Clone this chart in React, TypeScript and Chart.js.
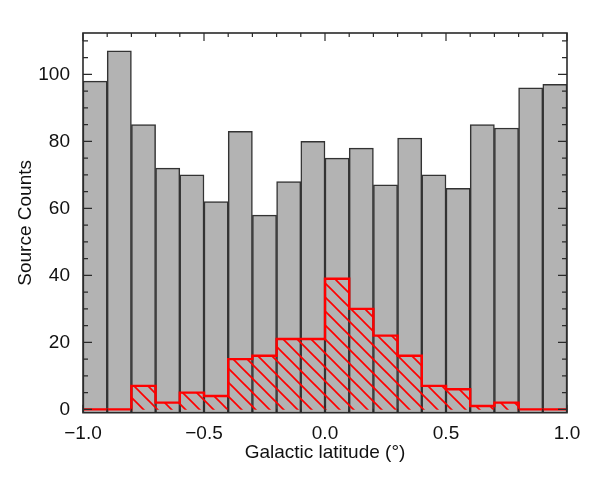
import React, { useEffect, useRef } from "react";
import { Chart, registerables } from "chart.js";

Chart.register(...registerables);

// Bin centres of Galactic latitude (degrees)
const binCenters = [
  -0.95, -0.85, -0.75, -0.65, -0.55, -0.45, -0.35, -0.25, -0.15, -0.05,
  0.05, 0.15, 0.25, 0.35, 0.45, 0.55, 0.65, 0.75, 0.85, 0.95,
];
const binHalfWidth = 0.05;
// All sources (grey histogram)
const allCounts = [98, 107, 85, 72, 70, 62, 83, 58, 68, 80, 75, 78, 67, 81, 70, 66, 85, 84, 96, 97];
// Selected sources (red hatched histogram)
const selCounts = [0, 0, 7, 2, 5, 4, 15, 16, 21, 21, 39, 30, 22, 16, 7, 6, 1, 2, 0, 0];
// Axis ticks
const xTicks = [-1.0, -0.5, 0.0, 0.5, 1.0];
const yTicks = [0, 20, 40, 60, 80, 100];

const FONT = "'Liberation Sans', Arial, Helvetica, sans-serif";

function makeHatch(): CanvasPattern | string {
  const s = 14;
  const c = document.createElement("canvas");
  c.width = s;
  c.height = s;
  const g = c.getContext("2d");
  if (!g) return "rgba(255,0,0,0.3)";
  g.strokeStyle = "#ff0000";
  g.lineWidth = 1.7;
  for (const k of [-1, 0, 1]) {
    g.beginPath();
    g.moveTo(-2, -2 + k * s);
    g.lineTo(s + 2, s + 2 + k * s);
    g.stroke();
  }
  const p = g.createPattern(c, "repeat");
  return p || "rgba(255,0,0,0.3)";
}

const framePlugin = {
  id: "frameTicks",
  afterDatasetsDraw(chart: any) {
    const { ctx, chartArea: a, scales } = chart;
    const xs = scales.x;
    const ys = scales.y;
    ctx.save();
    ctx.strokeStyle = "#2a2a2a";
    ctx.lineWidth = 1.6;
    ctx.strokeRect(a.left, a.top, a.right - a.left, a.bottom - a.top);
    ctx.lineWidth = 1.2;
    ctx.beginPath();
    // x ticks: minor every 0.1, major every 0.5
    for (let i = -10; i <= 10; i++) {
      const v = i / 10;
      const px = xs.getPixelForValue(v);
      const len = i % 5 === 0 ? 8 : 4;
      ctx.moveTo(px, a.bottom);
      ctx.lineTo(px, a.bottom - len);
      ctx.moveTo(px, a.top);
      ctx.lineTo(px, a.top + len);
    }
    // y ticks: minor every 5, major every 20
    for (let v = 0; v <= 110; v += 5) {
      const py = ys.getPixelForValue(v);
      const len = v % 20 === 0 ? 9 : 5;
      ctx.moveTo(a.left, py);
      ctx.lineTo(a.left + len, py);
      ctx.moveTo(a.right, py);
      ctx.lineTo(a.right - len, py);
    }
    ctx.stroke();
    ctx.restore();
  },
};

export default function App() {
  const ref = useRef<HTMLCanvasElement | null>(null);

  useEffect(() => {
    if (!ref.current) return;
    const hatch = makeHatch();
    const greyData = binCenters.map((x, i) => ({ x, y: allCounts[i] }));
    const hatchData = binCenters.map((x, i) => ({ x, y: selCounts[i] }));
    const stepData = binCenters.map((x, i) => ({ x: x - binHalfWidth, y: selCounts[i] }));
    stepData.push({
      x: binCenters[binCenters.length - 1] + binHalfWidth,
      y: selCounts[selCounts.length - 1],
    });

    const chart = new Chart(ref.current, {
      type: "bar",
      data: {
        datasets: [
          {
            type: "line",
            data: stepData,
            stepped: "before",
            borderColor: "#ff0000",
            borderWidth: 2.4,
            pointRadius: 0,
            fill: false,
            order: 1,
          } as any,
          {
            type: "bar",
            data: hatchData,
            backgroundColor: hatch as any,
            borderWidth: 0,
            grouped: false,
            barPercentage: 1,
            categoryPercentage: 1,
            order: 2,
          } as any,
          {
            type: "bar",
            data: greyData,
            backgroundColor: "#b3b3b3",
            borderColor: "#333333",
            borderWidth: 1.5,
            grouped: false,
            barPercentage: 1,
            categoryPercentage: 1,
            base: -1,
            order: 3,
          } as any,
        ],
      },
      options: {
        responsive: false,
        animation: false,
        layout: { padding: { top: 33, right: 31, left: 0, bottom: 0 } },
        plugins: {
          legend: { display: false },
          tooltip: { enabled: false },
        },
        scales: {
          x: {
            type: "linear",
            min: -1,
            max: 1,
            offset: false,
            grid: { display: false },
            border: { display: false },
            afterBuildTicks: (s: any) => {
              s.ticks = xTicks.map((v) => ({ value: v }));
            },
            afterFit: (s: any) => {
              s.height = 66.3;
            },
            ticks: {
              padding: 2,
              color: "#111",
              font: { family: FONT, size: 19 },
              maxRotation: 0,
              callback: (v: any) => {
                const n = Number(v);
                return (n < -1e-9 ? "\u2212" : "") + Math.abs(n).toFixed(1);
              },
            },
            title: {
              display: true,
              text: "Galactic latitude (\u00b0)",
              color: "#111",
              font: { family: FONT, size: 19 },
              padding: { top: 0, bottom: 15 },
            },
          },
          y: {
            type: "linear",
            min: -1,
            max: 112.35,
            stacked: false,
            grid: { display: false },
            border: { display: false },
            afterBuildTicks: (s: any) => {
              s.ticks = yTicks.map((v) => ({ value: v }));
            },
            afterFit: (s: any) => {
              s.width = 83;
            },
            ticks: {
              padding: 5,
              color: "#111",
              font: { family: FONT, size: 19 },
              callback: (v: any) => String(Math.round(Number(v))),
            },
            title: {
              display: true,
              text: "Source Counts",
              color: "#111",
              font: { family: FONT, size: 19 },
              padding: { top: 14, bottom: 0 },
            },
          },
        },
      },
      plugins: [framePlugin],
    });
    return () => chart.destroy();
  }, []);

  return (
    <div style={{ position: "absolute", left: 0, top: 0, width: 598, height: 479, background: "#fff" }}>
      <canvas ref={ref} width={598} height={479} style={{ display: "block" }} />
    </div>
  );
}
